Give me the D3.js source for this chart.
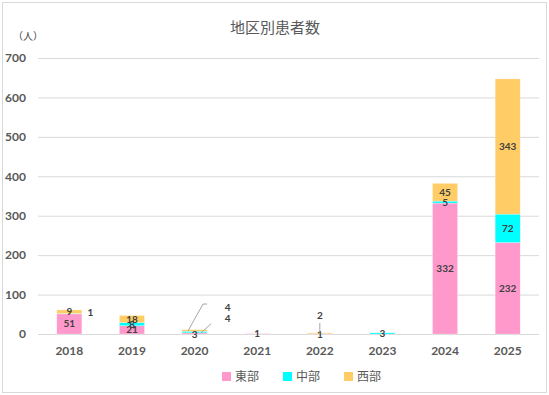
<!DOCTYPE html>
<html lang="ja">
<head>
<meta charset="utf-8">
<script src="https://d3js.org/d3.v7.min.js"></script>
<style>
  body { margin: 0; background: #fff; }
  svg { display: block; }
  .tick text { font-family: Lato, "Noto Sans", sans-serif; font-weight: 700; fill: #595959; }
  .lbl { font-family: Lato, "Noto Sans", sans-serif; font-weight: 700; font-size: 10px; fill: #404040; }
</style>
</head>
<body>
<div id="chart"></div>
<script>
// data
var years = ["2018", "2019", "2020", "2021", "2022", "2023", "2024", "2025"];
var east = [51, 21, 3, 1, 1, 0, 332, 232];
var middle = [1, 8, 4, 0, 0, 3, 5, 72];
var west = [9, 18, 4, 0, 2, 0, 45, 343];
var regions = ["東部", "中部", "西部"];
var colors = ["#ff99cc", "#00ffff", "#ffcc66"];
var yTicks = [0, 100, 200, 300, 400, 500, 600, 700];

var width = 549, height = 395;
var margin = { left: 38, right: 10, top: 58, bottom: 61 };

var svg = d3.select("#chart").append("svg")
  .attr("width", width)
  .attr("height", height);

// frame
svg.append("rect")
  .attr("x", 2.5).attr("y", 2.5)
  .attr("width", width - 5).attr("height", height - 5)
  .attr("fill", "#fff").attr("stroke", "#d9d9d9");

var x = d3.scaleBand().domain(years)
  .range([margin.left, width - margin.right])
  .paddingInner(0.6).paddingOuter(0.3);
var y = d3.scaleLinear().domain([0, 700])
  .range([height - margin.bottom, margin.top]);

// grid
svg.append("g").selectAll("line").data(yTicks).enter().append("line")
  .attr("x1", margin.left).attr("x2", width - margin.right)
  .attr("y1", d => y(d) + 0.5).attr("y2", d => y(d) + 0.5)
  .attr("stroke", "#d9d9d9");

// y axis labels
var yAxis = svg.append("g")
  .attr("transform", "translate(" + margin.left + ",0)")
  .call(d3.axisLeft(y).tickValues(yTicks).tickSize(0).tickPadding(12));
yAxis.select(".domain").remove();
yAxis.selectAll("text").style("font-size", "12px");

// x axis labels
var xAxis = svg.append("g")
  .attr("transform", "translate(0," + y(0) + ")")
  .call(d3.axisBottom(x).tickSize(0).tickPadding(12));
xAxis.select(".domain").remove();
xAxis.selectAll("text").style("font-size", "12px");

// stack
var rows = years.map((yr, i) => ({ year: yr, 0: east[i], 1: middle[i], 2: west[i] }));
var stack = d3.stack().keys([0, 1, 2])(rows);

svg.append("g").selectAll("g").data(stack).enter().append("g")
  .attr("fill", d => colors[d.key])
  .selectAll("rect").data(d => d).enter().append("rect")
  .attr("x", d => x(d.data.year))
  .attr("width", x.bandwidth())
  .attr("y", d => y(d[1]))
  .attr("height", d => y(d[0]) - y(d[1]))
  .attr("stroke", "#fff").attr("stroke-opacity", 0.5).attr("stroke-width", 0.5);

// data labels
// special offsets for tiny segments (dx, dy from centre of segment)
var special = {
  "0-1": [21, -1],    // 2018 中部
  "2-0": [0, 1],
  "2-1": [33, -25],
  "2-2": [33, -12],
  "4-0": [0, 1],
  "4-2": [0, -18]
};
var lbls = svg.append("g");
stack.forEach(function (s) {
  s.forEach(function (d, i) {
    var v = d[1] - d[0];
    if (v <= 0) return;
    var cx = x(d.data.year) + x.bandwidth() / 2;
    var cy = (y(d[0]) + y(d[1])) / 2;
    var off = special[i + "-" + s.key] || [0, 0];
    lbls.append("text").attr("class", "lbl")
      .attr("x", cx + off[0]).attr("y", cy + off[1])
      .attr("text-anchor", "middle").attr("dy", "0.35em")
      .text(v);
  });
});

// leader lines
var x20 = x("2020"), x22 = x("2022") + x.bandwidth() / 2;
lbls.append("polyline")
  .attr("points", [[x20 + 6, y(8)], [x20 + 21, y(76)], [x20 + 25, y(76)]].join(" "))
  .attr("fill", "none").attr("stroke", "#a6a6a6");
lbls.append("line")
  .attr("x1", x20 + 19).attr("y1", y(3))
  .attr("x2", x20 + 29).attr("y2", y(26))
  .attr("stroke", "#a6a6a6");
lbls.append("line")
  .attr("x1", x22).attr("y1", y(3))
  .attr("x2", x22).attr("y2", y(28))
  .attr("stroke", "#a6a6a6");

// title
svg.append("text")
  .attr("x", 275).attr("y", 33)
  .attr("text-anchor", "middle")
  .style("font-family", "'Noto Sans CJK JP', sans-serif")
  .style("font-size", "15px").style("fill", "#595959")
  .text("地区別患者数");

svg.append("text")
  .attr("x", 28).attr("y", 40)
  .attr("text-anchor", "middle")
  .style("font-family", "'Noto Sans CJK JP', sans-serif")
  .style("font-size", "10px").style("fill", "#404040")
  .text("（人）");

// legend
var legend = svg.append("g").attr("transform", "translate(222,377)");
regions.forEach(function (r, i) {
  var g = legend.append("g").attr("transform", "translate(" + (i * 61) + ",0)");
  g.append("rect").attr("x", 0).attr("y", -5).attr("width", 9).attr("height", 9)
    .attr("fill", colors[i]);
  g.append("text").attr("x", 13).attr("y", 0).attr("dy", "0.36em")
    .style("font-family", "'Noto Sans CJK JP', sans-serif")
    .style("font-size", "12px").style("fill", "#595959")
    .text(r);
});
</script>
</body>
</html>
